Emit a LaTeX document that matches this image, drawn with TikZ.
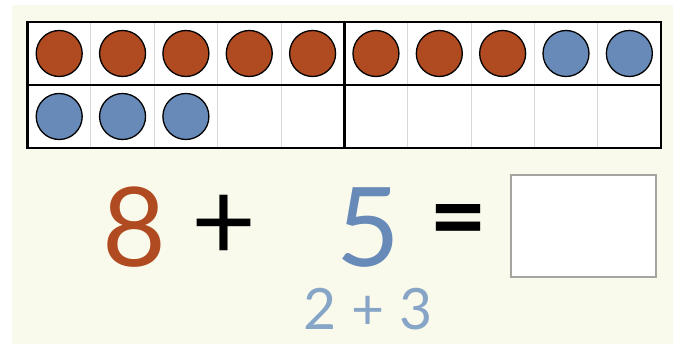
\documentclass[tikz,border=0pt]{standalone}
\usepackage{fontspec}
\setmainfont{Lato}
\definecolor{frameRed}{RGB}{176,74,32}
\definecolor{frameBlue}{RGB}{104,138,184}
\definecolor{frameLightBlue}{RGB}{135,165,198}
\definecolor{frameBack}{RGB}{249,250,236}
\definecolor{frameGrid}{RGB}{215,215,215}
\definecolor{frameAnswer}{RGB}{165,165,160}
\newcommand{\tfCell}{63.35}
\tikzset{
  counter/.style={circle, draw=black, line width=1.3pt, minimum size=46pt, inner sep=0pt},
  counterRed/.style={counter, fill=frameRed},
  counterBlue/.style={counter, fill=frameBlue},
  bigDigit/.style={anchor=base, inner sep=0pt, font=\fontsize{110}{110}\selectfont},
  opSign/.style={anchor=center, inner sep=0pt, font=\fontsize{100}{100}\selectfont\bfseries},
}

\begin{document}
\begin{tikzpicture}[x=1pt,y=-1pt]
\useasboundingbox (0,0) rectangle (673,345);
\fill[frameBack] (12,5) rectangle (673,344);
% ten frame
\fill[white] (27.5,22) rectangle (661,148);
\foreach \i in {1,...,9}
  \draw[frameGrid, line width=0.8pt] (27.5+\tfCell*\i,22) -- ++(0,126);
\draw[line width=2.5pt] (27.5,85) -- (661,85);
\draw[line width=2.5pt] (344.25,22) -- (344.25,148);
\draw[line width=2.5pt] (27.5,22) rectangle (661,148);
% counters
\foreach \i in {1,...,8}
  \node[counterRed] (red\i) at (59.2+\tfCell*\i-\tfCell,53.5) {};
\foreach \i in {9,10}
  \node[counterBlue] (blue\i) at (59.2+\tfCell*\i-\tfCell,53.5) {};
\foreach \i in {1,2,3}
  \node[counterBlue] (blueLow\i) at (59.2+\tfCell*\i-\tfCell,116.5) {};
% number sentence
\node[bigDigit, text=frameRed] (addendA) at (134,266) {8};
\node[opSign, font=\fontsize{112}{112}\selectfont] (plusSign) at (224,228) {+};
\node[bigDigit, text=frameBlue] (addendB) at (368,266) {5};
\node[opSign] (equalSign) at (458.5,228) {=};
\node[draw=frameAnswer, line width=2pt, fill=white, minimum width=145pt, minimum height=102pt] (answerBox) at (583.5,226) {};
\node[anchor=base, inner sep=0pt, text=frameLightBlue, font=\fontsize{57}{57}\selectfont] (splitParts) at (368,329) {2 + 3};
\end{tikzpicture}
\end{document}
